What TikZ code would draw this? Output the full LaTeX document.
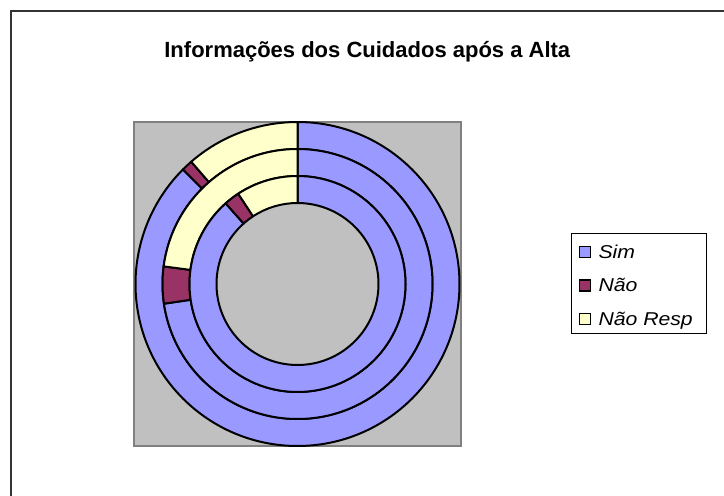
\documentclass[tikz,border=0pt]{standalone}
\usepackage{fontspec}
\setmainfont{Liberation Sans}
\definecolor{simc}{HTML}{9999FF}
\definecolor{naoc}{HTML}{993366}
\definecolor{nrc}{HTML}{FFFFCC}
\definecolor{plotgrey}{HTML}{C0C0C0}
\definecolor{plotedge}{HTML}{808080}
\newcommand\rseg[5]{%
  \filldraw[seg, fill=#1] (#4:#3) arc[start angle=#4, end angle=#5, radius=#3]
    -- (#5:#2) arc[start angle=#5, end angle=#4, radius=#2] -- cycle;}
\begin{document}
\begin{tikzpicture}[x=1pt,y=1pt,
  seg/.style={draw=black,line width=2pt,line join=round},
  legsq/.style={draw=black,line width=1.8pt,minimum size=11pt,inner sep=0pt},
  legtxt/.style={anchor=base west,inner sep=0pt,font=\fontsize{18.6}{22}\selectfont\itshape}]
\useasboundingbox (0,0) rectangle (724,496);
\fill[white] (0,0) rectangle (724,496);
% chart frame
\draw[line width=1.8pt, black!80] (11,-4) -- (11,485) -- (730,485);
% title
\node[anchor=base, inner sep=0pt, font=\fontsize{22}{26}\selectfont\bfseries] (title) at (367.3,438.5) {Informações dos Cuidados após a Alta};
% plot area
\node[draw=plotedge, fill=plotgrey, line width=1.5pt, minimum width=327pt, minimum height=324pt, inner sep=0pt] (plot) at (297.5,212) {};
\begin{scope}[shift={(297.5,212)}]
  % outer ring
  \rseg{simc}{135}{162}{90}{-225}
  \rseg{naoc}{135}{162}{135}{131}
  \rseg{nrc}{135}{162}{131}{90}
  % middle ring
  \rseg{simc}{108}{135}{90}{-171.6}
  \rseg{naoc}{108}{135}{188.4}{172.5}
  \rseg{nrc}{108}{135}{172.5}{90}
  % inner ring
  \rseg{simc}{81}{108}{90}{-228.3}
  \rseg{naoc}{81}{108}{131.7}{123.3}
  \rseg{nrc}{81}{108}{123.3}{90}
\end{scope}
% legend
\node[draw=black, line width=0.8pt, minimum width=134.5pt, minimum height=99.7pt, inner sep=0pt] (legend) at (638.75,212.85) {};
\node[legsq, fill=simc] (ksim) at (585,244) {};
\node[legtxt] (tsim) at (598.3,237.5) {\scalebox{1.14}[1]{Sim}};
\node[legsq, fill=naoc] (knao) at (585,210.5) {};
\node[legtxt] (tnao) at (598.3,204) {\scalebox{1.14}[1]{Não}};
\node[legsq, fill=nrc] (knr) at (585,177) {};
\node[legtxt] (tnr) at (598.3,170.5) {\scalebox{1.14}[1]{Não Resp}};
\end{tikzpicture}
\end{document}
